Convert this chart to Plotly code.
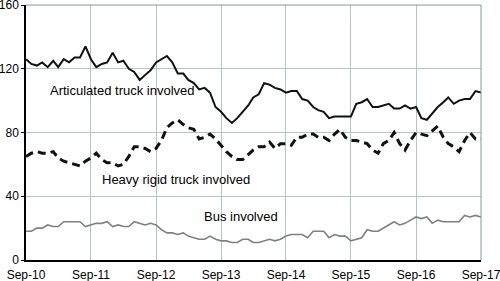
import pandas as pd
import plotly.graph_objects as go

months = pd.date_range("2010-09-01", periods=85, freq="MS")

articulated = [126,123,122,124,121,125,121,126,124,127,127,134,126,121,123,124,130,124,125,120,118,113,116,119,124,126,128,
               124,117,117,113,111,107,108,105,96,93,89,86,89,93,97,102,104,111,110,108,107,105,106,106,101,100,96,94,93,89,
               90,90,90,90,
               98,99,101,96,96,97,98,95,95,97,95,96,89,88,92,96,99,102,98,100,101,101,106,105]

heavy_rigid = [65,67,68,67,67,68,64,62,61,60,59,62,64,67,63,61,61,59,60,65,71,71,70,68,70,75,83,
               86,88,85,83,82,76,77,79,76,72,68,65,63,63,66,
               69,71,71,74,70,73,73,72,77,77,79,79,77,77,75,79,82,77,75,
               75,74,73,69,67,73,75,80,73,69,75,80,79,78,81,84,77,73,71,68,75,80,76,76]

bus = [18,18,20,20,22,21,21,24,24,24,24,21,22,23,23,24,21,22,21,21,24,23,22,23,22,19,17,17,16,17,15,14,13,13,15,13,12,12,11,11,13,13,11,11,
       12,13,12,13,15,16,16,16,14,18,18,18,14,16,15,15,12,13,14,19,18,18,20,22,24,22,23,25,27,26,27,23,25,24,24,24,24,28,27,28,27]

tick_labels = ["Sep-10", "Sep-11", "Sep-12", "Sep-13", "Sep-14", "Sep-15", "Sep-16", "Sep-17"]
tick_dates = [months[i * 12] for i in range(len(tick_labels))]
y_ticks = [0, 40, 80, 120, 160]

series_labels = ["Articulated truck involved", "Heavy rigid truck involved", "Bus involved"]

fig = go.Figure()
fig.add_trace(go.Scatter(x=months, y=articulated, mode="lines",
                         line=dict(color="#111111", width=2), name=series_labels[0]))
fig.add_trace(go.Scatter(x=months, y=heavy_rigid, mode="lines",
                         line=dict(color="#111111", width=3, dash="8px,5px"), name=series_labels[1]))
fig.add_trace(go.Scatter(x=months, y=bus, mode="lines",
                         line=dict(color="#808080", width=1.6), name=series_labels[2]))

font = dict(family="Liberation Sans, Arial, sans-serif", size=13, color="#000000")
tick_font = dict(family="Liberation Sans, Arial, sans-serif", size=12, color="#000000")

fig.update_layout(
    width=500, height=281,
    margin=dict(l=26, r=19, t=5, b=21, autoexpand=False),
    paper_bgcolor="white", plot_bgcolor="white",
    showlegend=False,
    font=font,
    xaxis=dict(range=[months[0], months[-1]], tickvals=tick_dates, ticktext=tick_labels,
               showgrid=True, gridcolor="#b8c4c4", gridwidth=1,
               showline=True, linecolor="#000000", linewidth=1.5,
               ticks="", tickfont=tick_font, zeroline=False, ticklabelstandoff=3,
               automargin=False, ticklabeloverflow="allow"),
    yaxis=dict(range=[0, 160], tickvals=y_ticks,
               showgrid=True, gridcolor="#b8c4c4", gridwidth=1,
               showline=True, linecolor="#000000", linewidth=1.5,
               ticks="outside", ticklen=3, tickcolor="#000000", tickfont=tick_font, zeroline=False,
               automargin=False, ticklabeloverflow="allow"),
)

fig.add_shape(type="line", xref="paper", yref="paper", x0=0, x1=1, y0=1, y1=1,
              line=dict(color="#8a9696", width=1))
fig.add_shape(type="line", xref="paper", yref="paper", x0=1, x1=1, y0=0, y1=1,
              line=dict(color="#8a9696", width=1))

ann_pos = [(0.048, 106.6), (0.163, 50.2), (0.387, 27.6)]
for label, (ax, ay) in zip(series_labels, ann_pos):
    fig.add_annotation(x=ax, y=ay, xref="paper", yref="y", text=label, showarrow=False,
                       xanchor="left", yanchor="middle", font=font)

fig.write_html("out.html", config={"displayModeBar": False},
               post_script="document.body.style.margin='0px';document.body.style.overflow='hidden';")
